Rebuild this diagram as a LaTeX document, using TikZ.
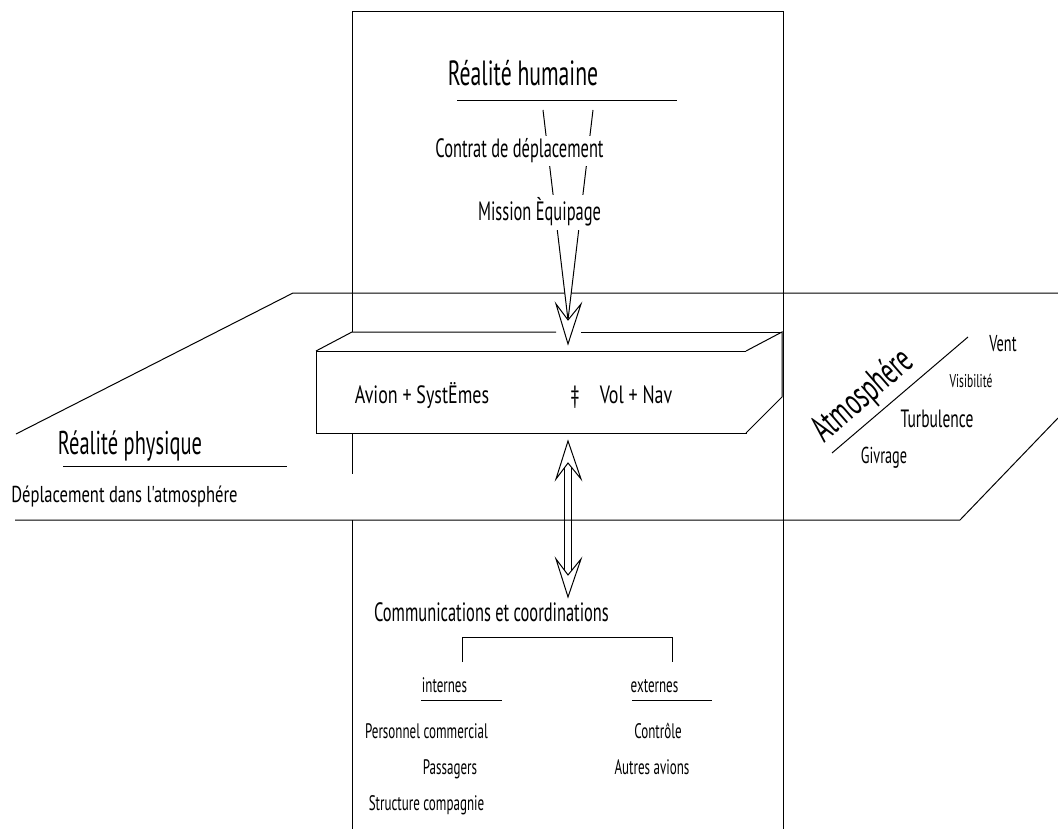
\documentclass[tikz,border=0pt]{standalone}
\usepackage{fontspec}
\setmainfont{PT Sans}[FakeStretch=0.62]
\newfontfamily\widefam{PT Sans}[FakeStretch=0.72]
\newcommand\fsz[1]{\fontsize{#1}{#1}\selectfont}
\begin{document}
\begin{tikzpicture}[x=1pt,y=-1pt, line width=1pt,
  txt/.style={inner sep=0pt, anchor=base},
  mask/.style={fill=white, inner sep=3pt, anchor=base},
  head/.style={fill=white, line join=miter}]
\useasboundingbox (0,0) rectangle (1058,829);

% plane "Réalité physique"
\draw (1058,293) -- (293,293) -- (16,434);
\draw (15,520) -- (960,520) -- (1058,418);

% tall rectangle "Réalité humaine"
\draw (352,332) -- (352,12) -- (783,12) -- (783,829);
\draw (352,433) -- (352,474);
\draw (352,520) -- (352,829);

% 3D box
\fill[white] (316,351) -- (352,332) -- (782,332) -- (746,351) -- cycle;
\draw (316,351) -- (352,332) -- (556,332);
\draw (581,332) -- (782,332);
\draw[fill=white] (316,351) rectangle (746,433);
\draw[fill=white] (746,351) -- (782,332) -- (782,397) -- (746,433);

% funnel arrow
\coordinate (fL) at (543,110);
\coordinate (fR) at (593,110);
\coordinate (fN) at (568,320);
\coordinate (fBL) at (556,304);
\coordinate (fBR) at (581,304);
\coordinate (fT) at (568,344);
\filldraw[fill=white] (fL) -- (fN) -- (fR);
\filldraw[head] (fN) -- (fBL) -- (fT) -- (fBR) -- cycle;

% double arrow
\coordinate (uT) at (568,441);
\coordinate (uN) at (568,463);
\coordinate (uBL) at (556,479);
\coordinate (uBR) at (581,479);
\coordinate (dT) at (568,597);
\coordinate (dN) at (568,575);
\coordinate (dBL) at (556,559);
\coordinate (dBR) at (581,559);
\draw (564.5,468) -- (564.5,570);
\draw (571.5,468) -- (571.5,570);
\filldraw[head] (uN) -- (uBL) -- (uT) -- (uBR) -- cycle;
\filldraw[head] (dN) -- (dBL) -- (dT) -- (dBR) -- cycle;

% texts top
\node[txt, font=\fsz{35}] (hum) at (523,86) {Réalité humaine};
\draw (457,101) -- (677,101);
\node[mask, font=\fsz{26.5}] (contrat) at (519.5,158) {Contrat de déplacement};
\node[mask, font=\fsz{26.5}] (mission) at (539.5,221) {Mission Èquipage};

% box texts
\node[txt, font=\widefam\fsz{25}] (avion) at (422,403) {Avion + SystËmes};
\node[txt, font=\widefam\fsz{25}] (dag) at (575,403) {‡};
\node[txt, font=\widefam\fsz{25}] (vol) at (636,403) {Vol + Nav};

% physical reality
\node[txt, font=\fsz{33}] (phys) at (130,454) {Réalité physique};
\draw (63,466) -- (287,466);
\node[txt, font=\widefam\fsz{23}] (depl) at (124.5,502) {Déplacement dans l'atmosphére};

% atmosphere
\node[txt, font=\fsz{38}, rotate=41] (atm) at (870,404) {Atmosphére};
\draw (832,453) -- (968,337);
\node[txt, font=\fsz{23}] (vent) at (1003,351) {Vent};
\node[txt, font=\fsz{18.5}] (visi) at (971,387) {Visibilité};
\node[txt, font=\fsz{25}] (turb) at (937,427) {Turbulence};
\node[txt, font=\fsz{23}] (givr) at (884,463) {Givrage};

% communications
\node[txt, font=\fsz{26.5}] (comm) at (491.5,621) {Communications et coordinations};
\draw (462,662) -- (462,637) -- (672,637) -- (672,662);
\node[txt, font=\fsz{21}] (int) at (444.5,692) {internes};
\draw (421,700) -- (502,700);
\node[txt, font=\fsz{21}] (ext) at (654.5,692) {externes};
\draw (632,700) -- (712,700);
\node[txt, font=\fsz{21}] (pers) at (426.5,738) {Personnel commercial};
\node[txt, font=\fsz{21}] (pass) at (450,774) {Passagers};
\node[txt, font=\fsz{21}] (struc) at (426.5,810) {Structure compagnie};
\node[txt, font=\fsz{21}] (ctrl) at (658,738) {Contrôle};
\node[txt, font=\fsz{21}] (autres) at (652,774) {Autres avions};
\end{tikzpicture}
\end{document}
